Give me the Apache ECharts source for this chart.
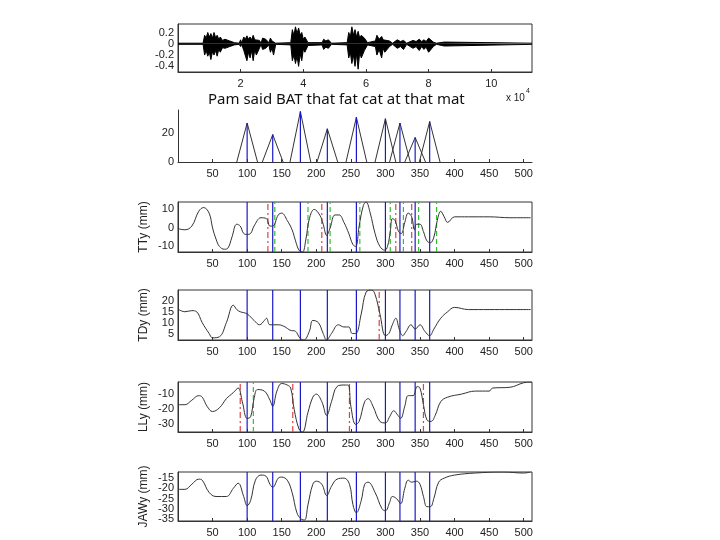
<!DOCTYPE html>
<html lang="en">
<head>
<meta charset="UTF-8">
<title>Articulator trajectories</title>
<style>
    body { margin: 0; background: #fff; }
    #echart { width: 720px; height: 540px; }
</style>
</head>
<body>
<div id="echart"></div>
<script src="https://cdn.jsdelivr.net/npm/echarts@6/dist/echarts.min.js"></script>
<script>
    // audio envelope: [x (x1e4 samples), upper, lower]
    const audioEnv = [
        [0, 0.01, -0.01], [0.8, 0.01, -0.01], [0.85, 0.15, -0.2], [0.9, 0.1, -0.12], [0.95, 0.2, -0.22], [1.0, 0.12, -0.15],
        [1.05, 0.18, -0.28], [1.1, 0.1, -0.14], [1.15, 0.2, -0.2], [1.2, 0.11, -0.12], [1.25, 0.15, -0.22], [1.3, 0.08, -0.1],
        [1.35, 0.12, -0.15], [1.42, 0.06, -0.07], [1.5, 0.08, -0.08], [1.65, 0.05, -0.05],
        [1.8, 0.02, -0.02], [1.95, 0.01, -0.01], [2.0, 0.07, -0.05], [2.03, 0.01, -0.01], [2.1, 0.12, -0.12],
        [2.15, 0.08, -0.1], [2.2, 0.14, -0.3], [2.25, 0.08, -0.15], [2.3, 0.12, -0.25], [2.35, 0.07, -0.12],
        [2.4, 0.15, -0.3], [2.45, 0.07, -0.1], [2.5, 0.1, -0.2], [2.6, 0.06, -0.08],
        [2.65, 0.01, -0.01], [2.7, 0.1, -0.1], [2.8, 0.08, -0.08], [2.9, 0.02, -0.02], [2.95, 0.1, -0.15],
        [3.0, 0.05, -0.08], [3.05, 0.08, -0.2], [3.12, 0.01, -0.01], [3.6, 0.02, -0.02], [3.65, 0.25, -0.3],
        [3.7, 0.15, -0.2], [3.75, 0.3, -0.35], [3.8, 0.18, -0.22], [3.85, 0.28, -0.4], [3.9, 0.15, -0.18],
        [3.95, 0.2, -0.3], [4.0, 0.08, -0.1], [4.05, 0.12, -0.15], [4.15, 0.02, -0.03], [4.6, 0.02, -0.02],
        [4.65, 0.08, -0.1], [4.72, 0.05, -0.06], [4.8, 0.07, -0.08], [4.9, 0.01, -0.01], [5.4, 0.02, -0.02], [5.45, 0.2, -0.25],
        [5.5, 0.12, -0.15], [5.55, 0.3, -0.35], [5.6, 0.15, -0.2], [5.65, 0.25, -0.4], [5.7, 0.12, -0.18],
        [5.75, 0.22, -0.45], [5.8, 0.1, -0.15], [5.85, 0.15, -0.25], [5.95, 0.1, -0.12],
        [6.05, 0.02, -0.02], [6.3, 0.05, -0.05], [6.35, 0.15, -0.2], [6.42, 0.08, -0.1], [6.5, 0.13, -0.25],
        [6.55, 0.07, -0.08], [6.6, 0.1, -0.15], [6.75, 0.05, -0.05], [6.85, 0.01, -0.01], [7.0, 0.07, -0.08],
        [7.1, 0.04, -0.05], [7.2, 0.06, -0.1], [7.3, 0.01, -0.01],
        [7.5, 0.06, -0.08], [7.6, 0.04, -0.05], [7.7, 0.08, -0.12], [7.78, 0.04, -0.05], [7.85, 0.07, -0.1],
        [7.92, 0.04, -0.06], [8.0, 0.1, -0.15], [8.15, 0.03, -0.05],
        [8.25, 0.01, -0.01], [8.5, 0.03, -0.04], [8.55, 0.01, -0.01], [11.3, 0.01, -0.01]
    ];

    // syllable nuclei (frames) and peak heights
    const peaks = [100, 137, 177, 216, 258, 300, 321, 343, 364];
    const peakHeights = [27, 19, 35, 23, 31, 30, 27, 17, 28];
    const halfWidth = 15;

    const ttyRed = [130, 208, 315, 338];
    const ttyGreen = [140, 188, 220, 263, 307, 326, 348, 374];
    const tdyRed = [291];
    const llyRed = [90, 166, 248, 355];
    const llyGreen = [109];

    const tty = [[1,-0.5],[10,-1],[20,1],[30,9],[37,11],[45,8],[50,0],[55,-6],[60,-10],[67,-11.5],[72,-11],[78,-5],[85,2],[90,1],[95,-3],[100,-3.5],[105,-3],[110,1],[120,5.5],[128,5],[133,1],[137,1],[145,7],[150,8],[158,4],[165,-1],[170,-7],[175,-12],[180,-13],[185,-6],[190,5],[197,10],[205,7],[210,2],[215,-4],[220,0],[227,7],[233,7],[240,3],[247,-3],[253,-9],[257,-10],[262,1],[268,12],[272,14],[278,8],[285,-3],[292,-10],[299,-12],[303,-10],[307,-2],[310,5],[314,4],[319,-2],[323,-3],[328,3],[333,8],[338,6],[342,-1],[345,2],[350,2],[355,-2],[360,-7],[365,-8],[370,-5],[375,4],[380,9],[385,6],[390,3],[400,6],[420,6],[450,6],[480,5.5],[510,5.5]];
    const tdy = [[1,16],[10,15],[20,15.5],[27,15],[35,10],[45,5],[50,3],[60,3.5],[70,10],[80,18],[85,16],[90,15],[100,14],[110,11],[118,9],[125,11],[128,12],[133,9],[145,9],[155,8],[162,6.5],[170,6],[176,3],[182,2],[190,6],[195,11],[203,10],[210,5],[215,2],[222,5],[232,9],[240,8],[247,8],[252,5],[257,5],[265,14],[272,24],[280,25],[285,23],[292,14],[300,4],[305,5],[310,9],[315,12],[320,7],[325,4],[330,6],[337,9],[343,7],[350,9],[357,6],[364,4],[370,7],[380,12],[390,15],[400,17],[420,16],[450,16],[480,16],[510,16]];
    const lly = [[1,-17],[10,-17],[20,-14],[30,-11],[35,-12],[42,-18],[50,-21.5],[60,-19],[70,-13],[80,-9],[87,-6],[93,-15],[100,-26],[105,-25],[110,-13],[115,-7],[125,-8],[133,-14],[137,-18],[143,-8],[150,-3],[158,-4],[163,-6],[168,-20],[175,-33],[180,-35],[188,-22],[195,-12],[200,-10],[208,-15],[215,-24],[222,-15],[230,-5],[240,-4],[246,-4],[250,-18],[257,-30],[262,-28],[270,-15],[275,-13],[282,-18],[292,-28],[300,-29],[306,-25],[312,-21],[318,-24],[322,-26],[328,-18],[333,-11],[340,-11],[346,-5],[350,-6],[355,-17],[360,-27],[366,-28],[372,-24],[380,-15],[390,-12],[410,-10],[430,-8],[450,-8],[455,-6],[480,-5.5],[500,-2.5],[512,-2]];
    const jawy = [[1,-20.5],[10,-20.5],[20,-18],[30,-15.5],[35,-16],[45,-22],[55,-24],[70,-24],[80,-20],[87,-17.5],[95,-24],[100,-28.5],[105,-26],[112,-16],[120,-13.5],[127,-14],[133,-18],[137,-19.5],[145,-15],[150,-14.5],[158,-16],[165,-22],[172,-32],[178,-35],[183,-35.5],[188,-28],[195,-18],[200,-16.5],[208,-18],[215,-23.5],[222,-19],[230,-15.5],[240,-15],[248,-18],[253,-28],[258,-32],[265,-26],[270,-18],[275,-17],[285,-22],[295,-30],[300,-31],[306,-27],[310,-24],[316,-25],[322,-27.5],[328,-20],[333,-16],[338,-17],[345,-16.5],[350,-18],[355,-24],[360,-29],[365,-29],[370,-25],[377,-17],[385,-15],[400,-13.5],[430,-12.5],[470,-12],[500,-12.5],[510,-12]];

    const font = "Liberation Sans";
    const tops = [24, 110, 202, 290, 382, 472];
    const heights = [48, 52, 50, 50, 50, 49];
    const yRanges = [[-0.5, 0.35], [0, 36], [-13, 14], [2, 25], [-35, -2], [-36, -12]];

    const grids = tops.map((t, i) => ({
        left: 178, width: 354, top: t, height: heights[i],
        show: i !== 1, borderColor: "#333", borderWidth: 1
    }));

    function xAx(i) {
        const audio = i === 0;
        return {
            type: "value", gridIndex: i,
            min: 0, max: audio ? 11.3 : 512, interval: audio ? 2 : 50,
            axisLine: { show: true, onZero: false, lineStyle: { color: "#333" } },
            axisTick: { inside: true, length: 3, lineStyle: { color: "#333" } },
            splitLine: { show: false },
            axisLabel: {
                fontFamily: font, fontSize: 11, color: "#222", margin: 6,
                showMaxLabel: false,
                formatter: (v) => (v === 0 ? "" : String(v))
            }
        };
    }

    function yAx(i, step, show, name) {
        return {
            type: "value", gridIndex: i, min: yRanges[i][0], max: yRanges[i][1], interval: step,
            name: name || "", nameLocation: "middle", nameRotate: 90, nameGap: 28,
            nameTextStyle: { fontFamily: font, fontSize: 12, color: "#222" },
            axisLine: { show: true, onZero: false, lineStyle: { color: "#333" } },
            axisTick: { show: false },
            splitLine: { show: false },
            axisLabel: {
                fontFamily: font, fontSize: 11, color: "#222", margin: 4,
                formatter: (v) => {
                    const r = Math.round(v * 100) / 100;
                    return show.includes(r) ? String(r) : "";
                }
            }
        };
    }

    // full-height vertical markers as one line series per colour
    function vlineSeries(i, xs, color, type) {
        const data = [];
        xs.forEach((x) => data.push([x, yRanges[i][0]], [x, yRanges[i][1]], null));
        return {
            type: "line", xAxisIndex: i, yAxisIndex: i, data: data, showSymbol: false,
            connectNulls: false, silent: true, z: 1,
            lineStyle: { color: color, type: type, width: 1.2 }
        };
    }

    function curve(i, data) {
        return {
            type: "line", xAxisIndex: i, yAxisIndex: i, data: data, z: 3,
            smooth: 0.4, showSymbol: false, lineStyle: { color: "#333", width: 1 }
        };
    }

    const blue = "#1a1ac8", red = "#e04040", green = "#30c030";
    const dashDot = [6, 3, 2, 3], dash = [5, 3];

    const triData = [];
    const stemData = [];
    peaks.forEach((p, k) => {
        triData.push([p - halfWidth, 0], [p, peakHeights[k]], [p + halfWidth, 0], null);
        stemData.push([p, 0], [p, peakHeights[k]], null);
    });

    const option = {
        animation: false,
        grid: grids,
        xAxis: [0, 1, 2, 3, 4, 5].map(xAx),
        yAxis: [
            yAx(0, 0.1, [-0.4, -0.2, 0, 0.2]),
            yAx(1, 1, [0, 20]),
            yAx(2, 1, [-10, 0, 10], "TTy (mm)"),
            yAx(3, 1, [5, 10, 15, 20], "TDy (mm)"),
            yAx(4, 1, [-30, -20, -10], "LLy (mm)"),
            yAx(5, 1, [-35, -30, -25, -20, -15], "JAWy (mm)")
        ],
        graphic: [
            { type: "text", left: 208, top: 92, style: { text: "Pam said BAT that fat cat at that mat", fontFamily: "Noto Sans", fontSize: 15, fill: "#111" } },
            { type: "text", left: 506, top: 93, style: { text: "x 10", fontFamily: font, fontSize: 10, fill: "#222" } },
            { type: "text", left: 526, top: 88, style: { text: "4", fontFamily: font, fontSize: 7, fill: "#222" } }
        ],
        series: [
            { type: "line", xAxisIndex: 0, yAxisIndex: 0, data: audioEnv.map((d) => [d[0], d[1]]), showSymbol: false,
              lineStyle: { color: "#000", width: 1 }, areaStyle: { color: "#000", opacity: 1, origin: 0 } },
            { type: "line", xAxisIndex: 0, yAxisIndex: 0, data: audioEnv.map((d) => [d[0], d[2]]), showSymbol: false,
              lineStyle: { color: "#000", width: 1 }, areaStyle: { color: "#000", opacity: 1, origin: 0 } },
            { type: "line", xAxisIndex: 1, yAxisIndex: 1, data: triData, showSymbol: false, connectNulls: false,
              lineStyle: { color: "#333", width: 1 } },
            { type: "line", xAxisIndex: 1, yAxisIndex: 1, data: stemData, showSymbol: false, connectNulls: false,
              lineStyle: { color: blue, width: 1.2 } },
            vlineSeries(2, peaks, blue, "solid"),
            vlineSeries(2, ttyRed, red, dashDot),
            vlineSeries(2, ttyGreen, green, dash),
            curve(2, tty),
            vlineSeries(3, peaks, blue, "solid"),
            vlineSeries(3, tdyRed, red, dashDot),
            curve(3, tdy),
            vlineSeries(4, peaks, blue, "solid"),
            vlineSeries(4, llyRed, red, dashDot),
            vlineSeries(4, llyGreen, green, dash),
            curve(4, lly),
            vlineSeries(5, peaks, blue, "solid"),
            curve(5, jawy)
        ]
    };

    echarts.init(document.getElementById("echart")).setOption(option);
</script>
</body>
</html>
